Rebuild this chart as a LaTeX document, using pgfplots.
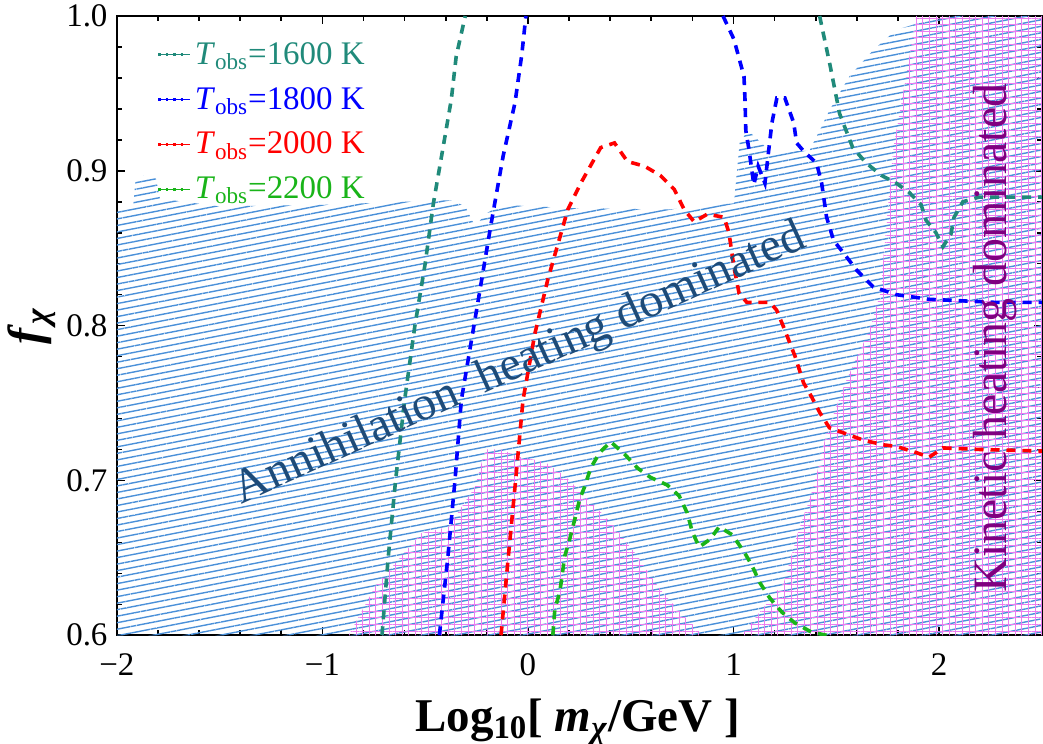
\documentclass[border=0pt]{standalone}
\usepackage{fontspec}
\setmainfont{Liberation Serif}
\usepackage{pgfplots}
\pgfplotsset{compat=1.18}
\usetikzlibrary{patterns.meta}
\definecolor{cteal}{RGB}{32,138,122}
\definecolor{cblue}{RGB}{0,0,255}
\definecolor{cred}{RGB}{255,0,0}
\definecolor{cgreen}{RGB}{25,180,25}
\definecolor{hatchblue}{RGB}{74,144,217}
\definecolor{gridmag}{RGB}{235,125,240}
\definecolor{anntext}{RGB}{30,75,120}
\definecolor{kintext}{RGB}{128,0,128}
\tikzset{
  xtl/.style={anchor=north, inner sep=0pt, yshift=-9pt, font=\fontsize{16.5}{16.5}\selectfont},
  ytl/.style={anchor=east, inner sep=0pt, xshift=-4.5pt, font=\fontsize{16.5}{16.5}\selectfont},
}
\newcommand{\legtxt}[2]{\mbox{\fontsize{16.5}{16.5}\selectfont\textcolor{#1}{\textit{T}\textsubscript{obs}=#2 K}}}
\pgfplotstableread{
x y
-0.872 0.6
-0.741 0.632
-0.518 0.666
-0.387 0.670
-0.257 0.696
-0.208 0.720
-0.131 0.720
-0.034 0.715
0.082 0.712
0.179 0.703
0.373 0.677
0.421 0.670
0.533 0.651
0.630 0.632
0.760 0.612
0.809 0.606
0.847 0.6
}\gridA
\pgfplotstableread{
x y
1.041 0.6
1.128 0.615
1.245 0.634
1.308 0.664
1.39 0.696
1.453 0.731
1.55 0.765
1.661 0.797
1.719 0.823
1.729 0.843
1.777 0.914
1.84 0.961
1.889 1.0
2.5 1.0
2.5 0.6
}\gridB
\begin{document}
\begin{tikzpicture}
\begin{axis}[name=ax, width=463pt, height=310pt, scale only axis,
  clip mode=individual,
  xmin=-2, xmax=2.5, ymin=0.6, ymax=1.0,
  xtick={-2,-1,0,1,2}, xticklabels={,,,,},
  ytick={0.6,0.7,0.8,0.9,1.0}, yticklabels={,,,,},
  minor x tick num=4, minor y tick num=4,
  major tick length=4pt, minor tick length=2.5pt,
  every tick/.append style={black, line width=0.8pt},
  axis line style={line width=1.2pt},
  xlabel={\fontsize{23.5}{23.5}\selectfont\textbf{Log\textsubscript{10}[ \textit{m}\textsubscript{\textit{χ}}/GeV ]}},
  xlabel style={at={(axis description cs:0.498,0)}, anchor=base, yshift=-48pt},
  ylabel={\fontsize{24}{24}\selectfont\textbf{\textit{f}\textsubscript{\textit{χ}}}},
  ylabel style={at={(axis description cs:-0.092,0.5)}, anchor=center, rotate=0},
  legend style={at={(axis description cs:0.041,0.968)}, anchor=north west, draw=none, fill=none,
    row sep=6pt, inner sep=1pt},
  legend cell align=left,
  legend image code/.code={\draw[#1, line width=1.3pt, dash pattern=on 1.3pt off 2.4pt] (0pt,0pt) -- (12.5pt,0pt); \path (0pt,0pt) -- (16pt,0pt);},
  curve/.style={line width=1.8pt, dash pattern=on 4.5pt off 3.5pt, forget plot},
  gridh/.style={draw=none, forget plot, pattern={Lines[angle=0,distance=3.3pt,line width=0.45pt]}, pattern color=gridmag},
  gridv/.style={draw=none, forget plot, pattern={Lines[angle=90,distance=3.3pt,line width=0.45pt]}, pattern color=gridmag},
]
% annihilation-dominated region (blue hatch)
\addplot[draw=none, forget plot, pattern={Lines[angle=11,distance=3.2pt,line width=0.7pt]}, pattern color=hatchblue]
coordinates {(-2,0.6) (-2,0.875) (-1.92,0.878) (-1.91,0.893) (-1.87,0.897) (-1.81,0.895) (-1.79,0.882)
 (-1.5,0.877) (-1.0,0.878) (-0.6,0.880) (-0.373,0.881) (-0.305,0.877) (-0.257,0.864) (-0.208,0.872)
 (-0.131,0.878) (0.2,0.876) (0.683,0.875) (1.002,0.879) (1.03,0.918) (1.07,0.926) (1.12,0.92)
 (1.18,0.912) (1.37,0.913) (1.467,0.939) (1.564,0.961) (1.68,0.978) (1.792,0.991) (1.889,0.995)
 (1.985,1.0) (2.5,1.0) (2.5,0.6)};
% kinetic-dominated regions (magenta grid)
\addplot[gridh] table {\gridA};
\addplot[gridv] table {\gridA};
\addplot[gridh] table {\gridB};
\addplot[gridv] table {\gridB};
% T_obs = 1600 K
\addplot[curve, cteal] coordinates {(-0.71,0.6) (-0.68,0.65) (-0.644,0.70) (-0.60,0.752) (-0.55,0.80)
 (-0.50,0.84) (-0.46,0.879) (-0.40,0.925) (-0.373,0.946) (-0.349,0.974) (-0.305,1.0)};
\addplot[curve, cteal] coordinates {(1.419,1.0) (1.47,0.968) (1.516,0.937) (1.58,0.915) (1.646,0.905)
 (1.72,0.897) (1.792,0.892) (1.855,0.886) (1.913,0.878) (1.937,0.868) (1.985,0.860) (2.019,0.851)
 (2.058,0.859) (2.073,0.870) (2.116,0.880) (2.194,0.883) (2.5,0.883)};
% T_obs = 1800 K
\addplot[curve, cblue] coordinates {(-0.431,0.6) (-0.39,0.65) (-0.355,0.70) (-0.324,0.752) (-0.25,0.81)
 (-0.179,0.866) (-0.12,0.91) (-0.063,0.944) (-0.03,0.975) (-0.01,1.0)};
\addplot[curve, cblue] coordinates {(0.949,1.0) (1.002,0.985) (1.051,0.961) (1.056,0.946) (1.06,0.926)
 (1.075,0.914) (1.099,0.891) (1.12,0.903) (1.153,0.892) (1.172,0.914) (1.187,0.931) (1.211,0.947)
 (1.25,0.947) (1.293,0.931) (1.307,0.918) (1.346,0.912) (1.404,0.905) (1.429,0.892) (1.453,0.870)
 (1.487,0.855) (1.535,0.847) (1.598,0.836) (1.68,0.825) (1.792,0.820) (1.952,0.817) (2.276,0.815) (2.5,0.815)};
% T_obs = 2000 K
\addplot[curve, cred] coordinates {(-0.131,0.6) (-0.096,0.65) (-0.06,0.70) (-0.024,0.752) (0.034,0.795)
 (0.097,0.83) (0.194,0.875) (0.257,0.892) (0.354,0.915) (0.421,0.918) (0.484,0.906) (0.567,0.903)
 (0.644,0.897) (0.712,0.888) (0.76,0.875) (0.809,0.867) (0.872,0.872) (0.954,0.870) (0.978,0.860)
 (1.002,0.838) (1.027,0.821) (1.065,0.815) (1.177,0.815) (1.21,0.81) (1.244,0.799) (1.30,0.78)
 (1.341,0.763) (1.38,0.754) (1.419,0.744) (1.467,0.734) (1.55,0.730) (1.632,0.726) (1.729,0.723)
 (1.792,0.722) (1.889,0.718) (1.952,0.715) (2.019,0.721) (2.2,0.720) (2.5,0.719)};
% T_obs = 2200 K
\addplot[curve, cgreen] coordinates {(0.121,0.6) (0.131,0.617) (0.155,0.628) (0.179,0.651) (0.203,0.662)
 (0.228,0.675) (0.252,0.688) (0.276,0.696) (0.305,0.708) (0.349,0.718) (0.402,0.725) (0.470,0.717)
 (0.533,0.708) (0.596,0.702) (0.678,0.697) (0.736,0.690) (0.775,0.679) (0.799,0.667) (0.833,0.657)
 (0.886,0.662) (0.930,0.670) (0.993,0.665) (1.051,0.654) (1.090,0.645) (1.128,0.634) (1.177,0.624)
 (1.235,0.615) (1.298,0.608) (1.380,0.602) (1.453,0.6)};
% legend
\addlegendimage{cteal}
\addlegendentry{\legtxt{cteal}{1600}}
\addlegendimage{cblue}
\addlegendentry{\legtxt{cblue}{1800}}
\addlegendimage{cred}
\addlegendentry{\legtxt{cred}{2000}}
\addlegendimage{cgreen}
\addlegendentry{\legtxt{cgreen}{2200}}
% tick labels
\node[xtl] at (axis cs:-2,0.6) {−2};
\node[xtl] at (axis cs:-1,0.6) {−1};
\node[xtl] at (axis cs:0,0.6) {0};
\node[xtl] at (axis cs:1,0.6) {1};
\node[xtl] at (axis cs:2,0.6) {2};
\node[ytl] at (axis cs:-2,0.6) {0.6};
\node[ytl] at (axis cs:-2,0.7) {0.7};
\node[ytl] at (axis cs:-2,0.8) {0.8};
\node[ytl] at (axis cs:-2,0.9) {0.9};
\node[ytl] at (axis cs:-2,1.0) {1.0};
% region labels
\node[rotate=24.5, anchor=base, text=anntext, font=\fontsize{24}{24}\selectfont] at (axis cs:-0.015,0.768) {Annihilation\ \ heating dominated};
\node[rotate=90, anchor=base, text=kintext, font=\fontsize{24}{24}\selectfont] at (axis cs:2.33,0.792) {Kinetic heating dominated};
\end{axis}
\pgfresetboundingbox
\path[use as bounding box] ([xshift=-58.5pt,yshift=-54pt]ax.south west) rectangle ([xshift=0.6pt,yshift=8pt]ax.north east);
\end{tikzpicture}
\end{document}
